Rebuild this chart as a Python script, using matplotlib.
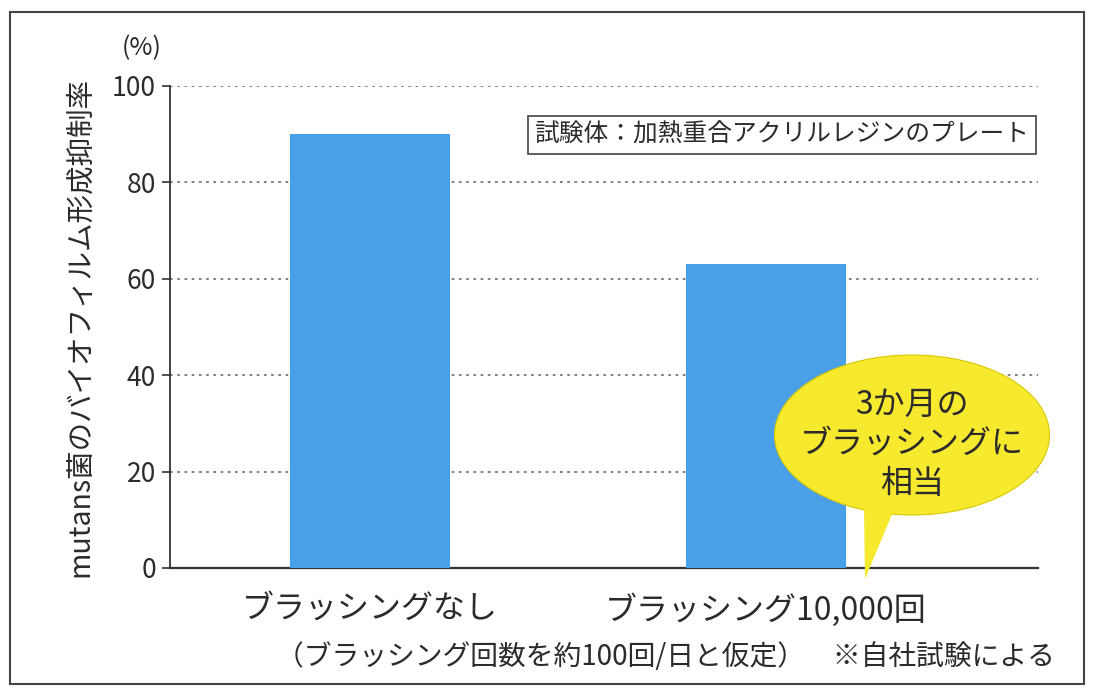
import numpy as np
import matplotlib.pyplot as plt
from matplotlib.patches import Ellipse, Polygon, Rectangle

plt.rcParams['font.family'] = ['Noto Sans CJK JP', 'DejaVu Sans']

categories = ['ブラッシングなし', 'ブラッシング10,000回']
values = [90, 63]
yticks = [0, 20, 40, 60, 80, 100]
ylabel = 'mutans菌のバイオフィルム形成抑制率'
note_box = '試験体：加熱重合アクリルレジンのプレート'
bubble_text = '3か月の\nブラッシングに\n相当'
footer = '（ブラッシング回数を約100回/日と仮定）　※自社試験による'

W, H = 1094, 689
txt = '#2b2b2b'
bar_col = '#4aa0e6'


def px(x, y):
    return (x / W, 1 - y / H)


fig = plt.figure(figsize=(W / 100, H / 100), dpi=100)
ax = fig.add_axes([170 / W, 1 - 568 / H, (1038 - 170) / W, (568 - 86) / H])

x = np.arange(len(categories))
ax.bar(x, values, width=0.404, color=bar_col, zorder=3)
ax.set_xlim(-0.505, 1.687)
ax.set_ylim(0, 100)
ax.set_yticks(yticks)
ax.set_yticklabels([str(v) for v in yticks], fontsize=19, color=txt)
for v in yticks[1:]:
    ax.axhline(v, color='#777777', lw=1.3, ls=(0, (1.5, 2.5)), zorder=1)
ax.set_xticks(x)
ax.set_xticklabels(categories, fontsize=23, color=txt)
ax.tick_params(axis='x', length=0, pad=18)
ax.tick_params(axis='y', length=6, width=1.2, color='#333333', pad=4)
for s in ['top', 'right']:
    ax.spines[s].set_visible(False)
ax.spines['left'].set_color('#333333')
ax.spines['left'].set_linewidth(1.3)
ax.spines['bottom'].set_color('#333333')
ax.spines['bottom'].set_linewidth(1.6)
ax.set_ylabel(ylabel, fontsize=20.5, color=txt, labelpad=12)

fig.text(*px(142, 48), '(%)', fontsize=18, color=txt, ha='center', va='center')

fig.text(*px(782, 135), note_box, fontsize=17.8,
         color=txt, ha='center', va='center',
         bbox=dict(boxstyle='square,pad=0.25', fc='white', ec='#444444', lw=1.2),
         zorder=5)

# callout bubble
tf = fig.transFigure
ell = Ellipse(px(912, 435), 275 / W, 160 / H, transform=tf,
              fc='#f7e92e', ec='#d9c900', lw=0.8, zorder=6)
tail = Polygon([px(864, 505), px(898, 500), px(865, 579)], closed=True,
               transform=tf, fc='#f7e92e', ec='none', zorder=6)
fig.patches.extend([ell, tail])
fig.text(*px(912, 444), bubble_text, fontsize=23, color=txt, ha='center',
         va='center', linespacing=1.3, zorder=7)

fig.text(*px(665, 657), footer, fontsize=20, color=txt, ha='center', va='center')

# outer frame
fig.patches.append(Rectangle(px(10, 684), 1074 / W, 672 / H, transform=tf,
                             fill=False, ec='#444444', lw=1.5))

fig.savefig('out.png', dpi=100)
